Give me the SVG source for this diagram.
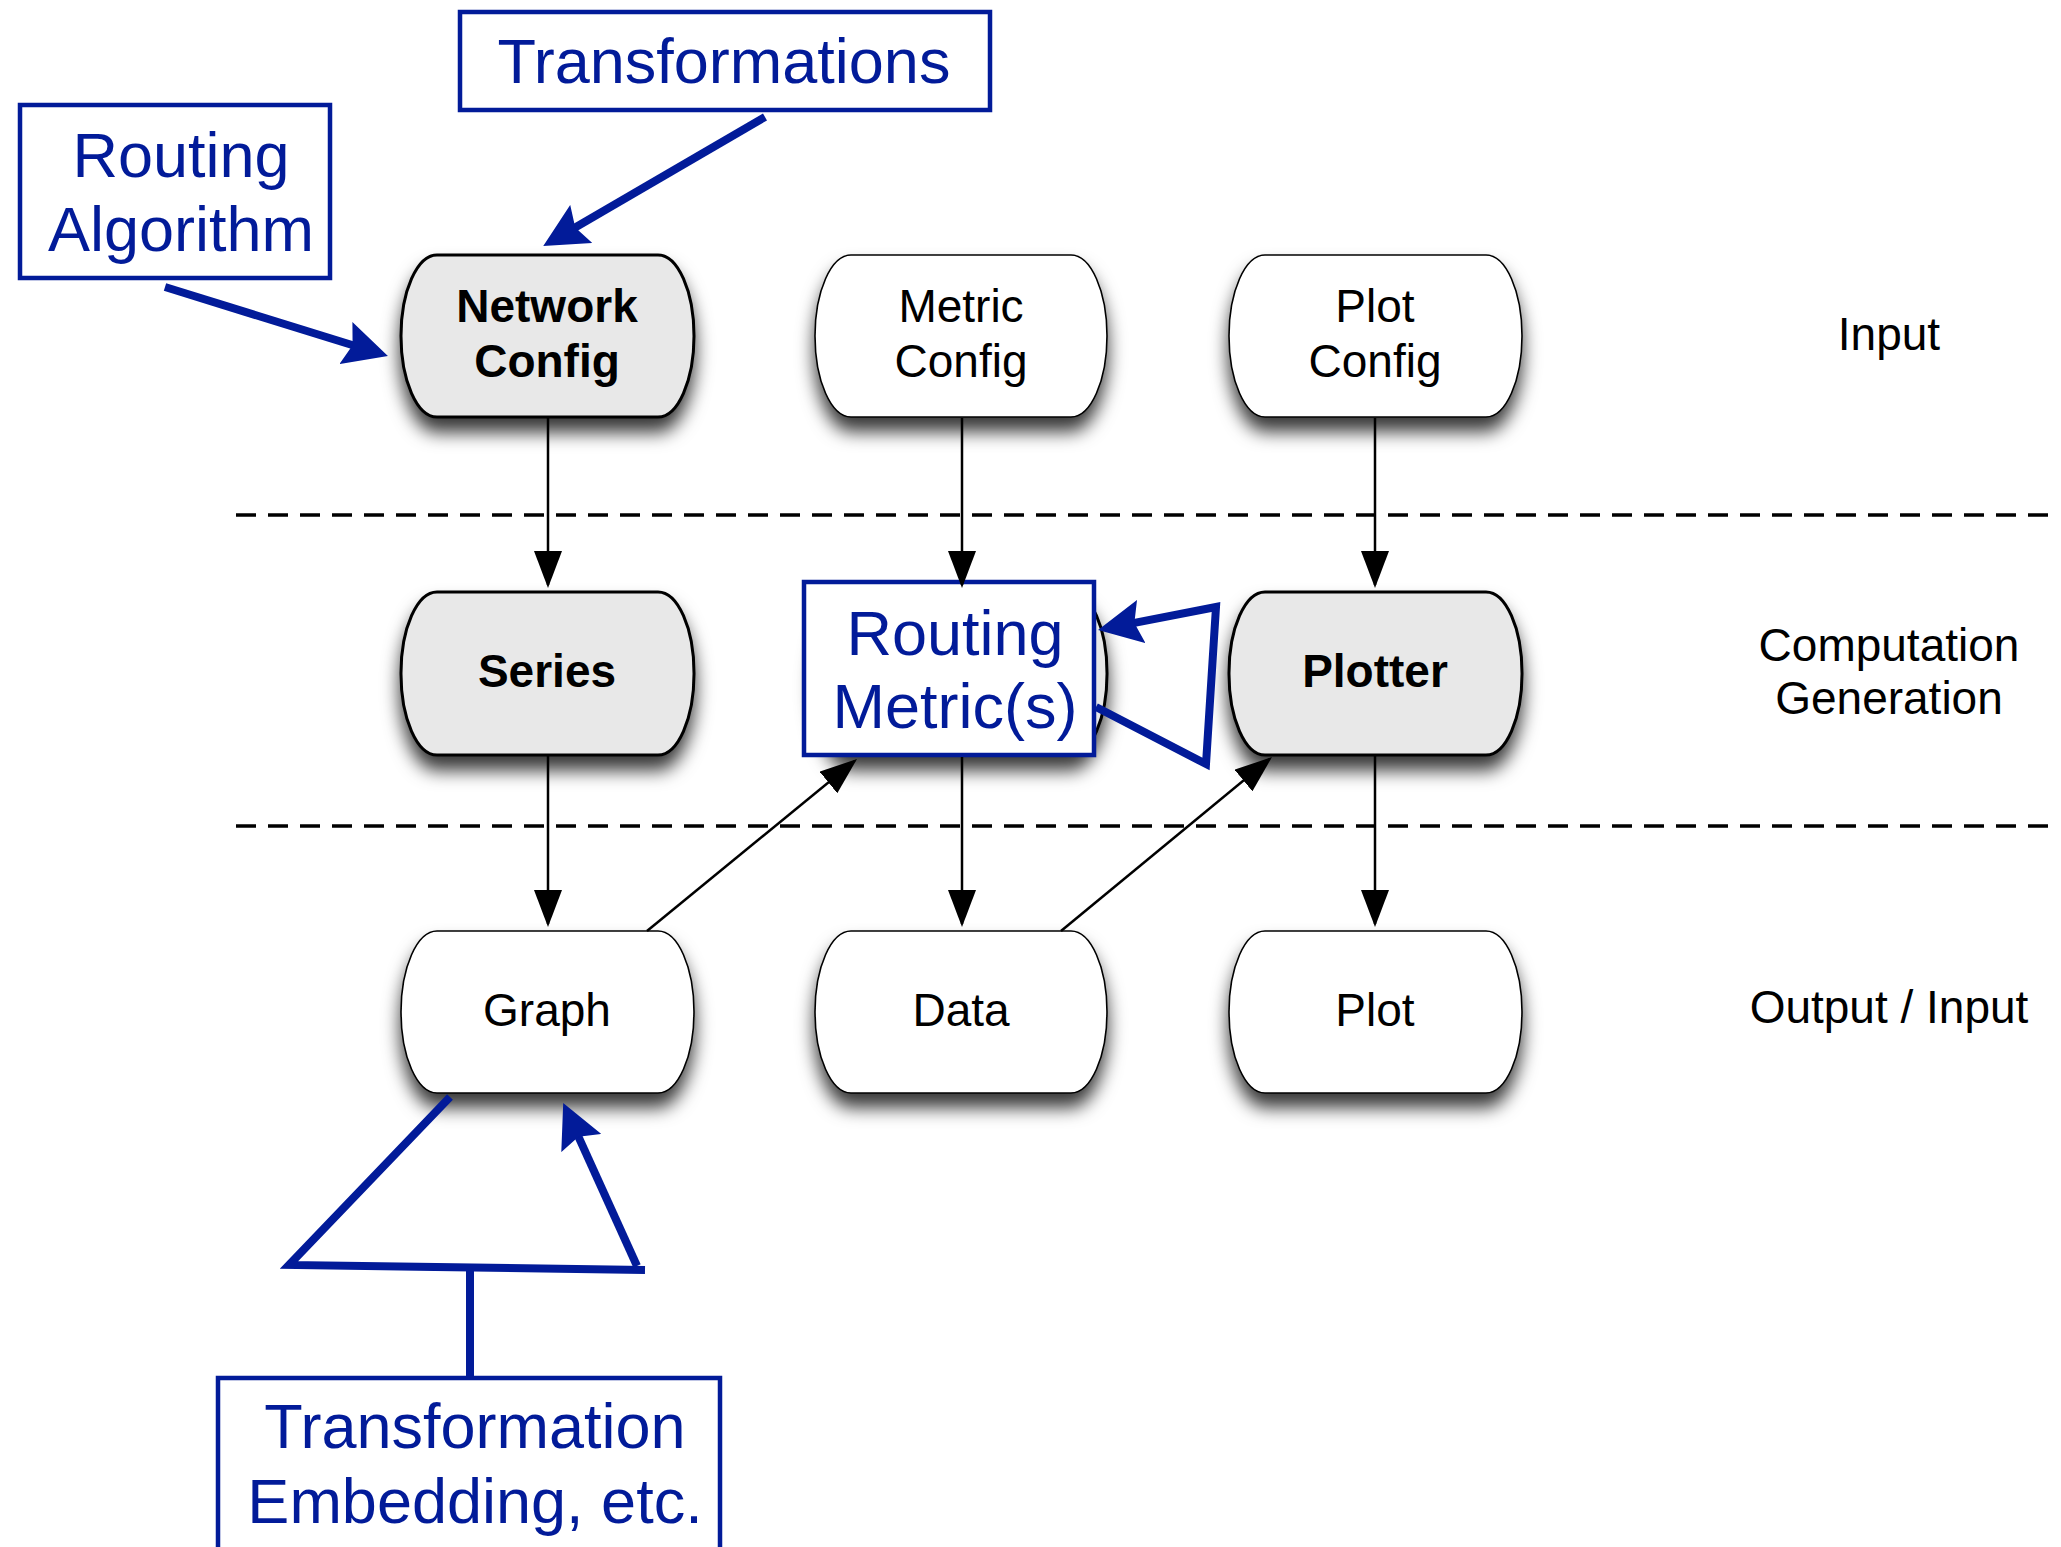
<svg xmlns="http://www.w3.org/2000/svg" width="2061" height="1547" viewBox="0 0 2061 1547">
  <style>
    .lane { stroke: #000; stroke-width: 3.5; stroke-dasharray: 20 12; fill: none; }
    .proc { fill: #e8e8e8; stroke: #000; stroke-width: 3; filter: url(#shadow); }
    .data { fill: #fff; stroke: #000; stroke-width: 1.6; filter: url(#shadow); }
    .lbl { font-family: "Liberation Sans", Arial, Helvetica, sans-serif; font-size: 46px; fill: #000; text-anchor: middle; }
    .bold { font-weight: bold; }
    .note { fill: #fff; stroke: #021B99; stroke-width: 4.5; }
    .notetxt { font-family: "Liberation Sans", Arial, Helvetica, sans-serif; font-size: 63px; fill: #021B99; text-anchor: middle; }
    .flow { stroke: #000; stroke-width: 2.5; fill: none; marker-end: url(#ah); }
    .blue { stroke: #021B99; stroke-width: 8; fill: none; stroke-linejoin: miter; }
    .bluearrow { marker-end: url(#bh); }
  </style>
  <defs>
    <filter id="shadow" x="-20%" y="-25%" width="140%" height="170%">
      <feDropShadow dx="0" dy="14" stdDeviation="9" flood-color="#000" flood-opacity="0.78"/>
    </filter>
    <marker id="ah" viewBox="0 0 37 28" refX="34" refY="14" markerWidth="37" markerHeight="28" markerUnits="userSpaceOnUse" orient="auto">
      <path d="M0,0 L37,14 L0,28 Z" fill="#000"/>
    </marker>
    <marker id="bh" viewBox="0 0 44 44" refX="20" refY="22" markerWidth="44" markerHeight="44" markerUnits="userSpaceOnUse" orient="auto">
      <path d="M0,0 L44,22 L0,44 L7,22 Z" fill="#021B99"/>
    </marker>
  </defs>

  <rect width="2061" height="1547" fill="#fff"/>

  <!-- stage separators -->
  <g id="lanes">
    <line class="lane" x1="236" y1="515" x2="2052" y2="515"/>
    <line class="lane" x1="236" y1="826" x2="2052" y2="826"/>
  </g>

  <!-- stage labels -->
  <g id="stage-labels">
    <text class="lbl" x="1889" y="350">Input</text>
    <text class="lbl" x="1889" y="661">Computation</text>
    <text class="lbl" x="1889" y="714">Generation</text>
    <text class="lbl" x="1889" y="1023">Output / Input</text>
  </g>

  <!-- input row -->
  <g id="network-config">
    <rect class="proc" x="401" y="255" width="293" height="162" rx="36" ry="81"/>
    <text class="lbl bold" x="547" y="322">Network</text>
    <text class="lbl bold" x="547" y="377">Config</text>
  </g>
  <g id="metric-config">
    <rect class="data" x="815" y="255" width="292" height="162" rx="36" ry="81"/>
    <text class="lbl" x="961" y="322">Metric</text>
    <text class="lbl" x="961" y="377">Config</text>
  </g>
  <g id="plot-config">
    <rect class="data" x="1229" y="255" width="293" height="162" rx="36" ry="81"/>
    <text class="lbl" x="1375" y="322">Plot</text>
    <text class="lbl" x="1375" y="377">Config</text>
  </g>

  <!-- computation row -->
  <g id="series">
    <rect class="proc" x="401" y="592" width="293" height="163" rx="36" ry="81"/>
    <text class="lbl bold" x="547" y="687">Series</text>
  </g>
  <g id="metric">
    <rect class="proc" x="815" y="592" width="292" height="163" rx="36" ry="81"/>
  </g>
  <g id="plotter">
    <rect class="proc" x="1229" y="592" width="293" height="163" rx="36" ry="81"/>
    <text class="lbl bold" x="1375" y="687">Plotter</text>
  </g>

  <!-- output row -->
  <g id="graph">
    <rect class="data" x="401" y="931" width="293" height="162" rx="36" ry="81"/>
    <text class="lbl" x="547" y="1026">Graph</text>
  </g>
  <g id="data">
    <rect class="data" x="815" y="931" width="292" height="162" rx="36" ry="81"/>
    <text class="lbl" x="961" y="1026">Data</text>
  </g>
  <g id="plot">
    <rect class="data" x="1229" y="931" width="293" height="162" rx="36" ry="81"/>
    <text class="lbl" x="1375" y="1026">Plot</text>
  </g>

  <!-- annotation boxes -->
  <g id="routing-metrics">
    <rect class="note" x="804" y="582" width="290" height="173"/>
    <text class="notetxt" x="955" y="655">Routing</text>
    <text class="notetxt" x="955" y="728">Metric(s)</text>
  </g>
  <g id="transformations">
    <rect class="note" x="460" y="12" width="530" height="98"/>
    <text class="notetxt" x="724" y="83">Transformations</text>
  </g>
  <g id="routing-algorithm">
    <rect class="note" x="20" y="105" width="310" height="173"/>
    <text class="notetxt" x="181" y="177">Routing</text>
    <text class="notetxt" x="181" y="251">Algorithm</text>
  </g>
  <g id="transformation-embedding">
    <rect class="note" x="218" y="1378" width="502" height="200"/>
    <text class="notetxt" x="475" y="1448">Transformation</text>
    <text class="notetxt" x="475" y="1523">Embedding, etc.</text>
  </g>

  <!-- connectors -->
  <g id="connectors">
    <line class="flow" x1="548" y1="418" x2="548" y2="585"/>
    <line class="flow" x1="962" y1="418" x2="962" y2="585"/>
    <line class="flow" x1="1375" y1="418" x2="1375" y2="585"/>
    <line class="flow" x1="548" y1="756" x2="548" y2="924"/>
    <line class="flow" x1="962" y1="757" x2="962" y2="924"/>
    <line class="flow" x1="1375" y1="756" x2="1375" y2="924"/>
    <line class="flow" x1="647" y1="931" x2="854.7" y2="760.9"/>
    <line class="flow" x1="1061" y1="931" x2="1269.7" y2="758.9"/>

    <path class="blue bluearrow" d="M165,287 L365,349"/>
    <path class="blue bluearrow" d="M765,117 L564,234"/>
    <path class="blue bluearrow" d="M1096,707 L1206,764 L1216,607 L1121.6,625.4"/>
    <path class="blue" d="M450,1097 L289,1265 L645,1270"/>
    <path class="blue bluearrow" d="M637,1266 L573.1,1124.8"/>
    <line class="blue" x1="470" y1="1268" x2="470" y2="1378" stroke-width="9"/>
  </g>
</svg>
